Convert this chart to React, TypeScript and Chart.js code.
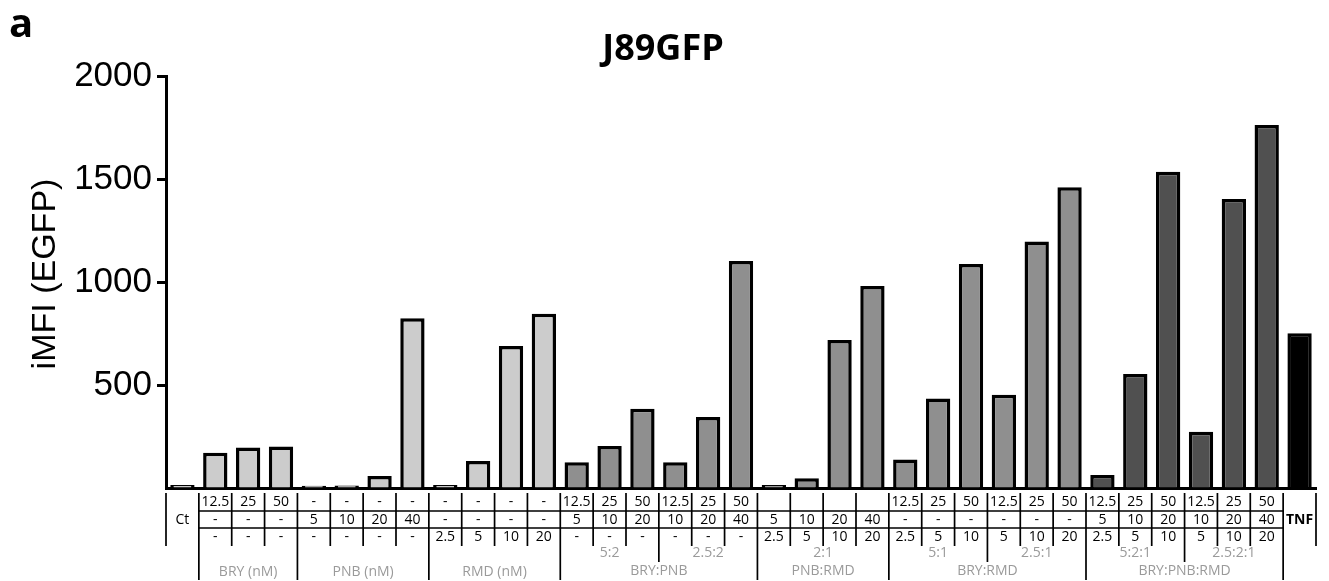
import React, { useEffect, useRef } from "react";
import { Chart, registerables } from "chart.js";

Chart.register(...registerables);

// ---- data ----
const categories = [
  "Ct",
  "BRY 12.5", "BRY 25", "BRY 50",
  "PNB 5", "PNB 10", "PNB 20", "PNB 40",
  "RMD 2.5", "RMD 5", "RMD 10", "RMD 20",
  "BRY:PNB 12.5:5", "BRY:PNB 25:10", "BRY:PNB 50:20", "BRY:PNB 12.5:10", "BRY:PNB 25:20", "BRY:PNB 50:40",
  "PNB:RMD 5:2.5", "PNB:RMD 10:5", "PNB:RMD 20:10", "PNB:RMD 40:20",
  "BRY:RMD 12.5:2.5", "BRY:RMD 25:5", "BRY:RMD 50:10", "BRY:RMD 12.5:5", "BRY:RMD 25:10", "BRY:RMD 50:20",
  "BRY:PNB:RMD 12.5:5:2.5", "BRY:PNB:RMD 25:10:5", "BRY:PNB:RMD 50:20:10", "BRY:PNB:RMD 12.5:10:5", "BRY:PNB:RMD 25:20:10", "BRY:PNB:RMD 50:40:20",
  "TNF",
];

const imfiValues = [
  15,
  171, 196, 202,
  11, 12, 58, 824,
  15, 131, 689, 846,
  125, 204, 385, 125, 345, 1102,
  15, 47, 718, 981,
  138, 435, 1087, 453, 1196, 1460,
  63, 553, 1535, 273, 1403, 1762,
  751,
];

const LIGHT = "#cccccc";
const MID = "#8f8f8f";
const DARK = "#505050";
const BLACK = "#000000";
const barColors = [
  LIGHT,
  LIGHT, LIGHT, LIGHT,
  LIGHT, LIGHT, LIGHT, LIGHT,
  LIGHT, LIGHT, LIGHT, LIGHT,
  MID, MID, MID, MID, MID, MID,
  MID, MID, MID, MID,
  MID, MID, MID, MID, MID, MID,
  DARK, DARK, DARK, DARK, DARK, DARK,
  BLACK,
];

// table rows (BRY / PNB / RMD concentrations), "" = empty cell
const rowBRY = [
  "",
  "12.5", "25", "50",
  "-", "-", "-", "-",
  "-", "-", "-", "-",
  "12.5", "25", "50", "12.5", "25", "50",
  "", "", "", "",
  "12.5", "25", "50", "12.5", "25", "50",
  "12.5", "25", "50", "12.5", "25", "50",
  "",
];
const rowPNB = [
  "Ct",
  "-", "-", "-",
  "5", "10", "20", "40",
  "-", "-", "-", "-",
  "5", "10", "20", "10", "20", "40",
  "5", "10", "20", "40",
  "-", "-", "-", "-", "-", "-",
  "5", "10", "20", "10", "20", "40",
  "TNF",
];
const rowRMD = [
  "",
  "-", "-", "-",
  "-", "-", "-", "-",
  "2.5", "5", "10", "20",
  "-", "-", "-", "-", "-", "-",
  "2.5", "5", "10", "20",
  "2.5", "5", "10", "5", "10", "20",
  "2.5", "5", "10", "5", "10", "20",
  "",
];

const subGroupLabels = ["5:2", "2.5:2", "2:1", "5:1", "2.5:1", "5:2:1", "2.5:2:1"];
const subGroupStart = [12, 15, 18, 22, 25, 28, 31];
const subGroupEnd = [14, 17, 21, 24, 27, 30, 33];

const groupLabels = ["BRY (nM)", "PNB (nM)", "RMD (nM)", "BRY:PNB", "PNB:RMD", "BRY:RMD", "BRY:PNB:RMD"];
const groupStart = [1, 4, 8, 12, 18, 22, 28];
const groupEnd = [3, 7, 11, 17, 21, 27, 33];
const groupHasSub = [false, false, false, true, true, true, true];

const yTickValues = [0, 500, 1000, 1500, 2000];

const chartTitle = "J89GFP";
const yTitle = "iMFI (EGFP)";
const panelLetter = "a";

// ---- plugin: titles + table beneath x axis ----
const decorPlugin = {
  id: "decor",
  afterDraw(chart: any) {
    const ctx = chart.ctx as CanvasRenderingContext2D;
    const area = chart.chartArea;
    const x = chart.scales.x;
    const n = categories.length;
    const colW = x.getPixelForValue(1) - x.getPixelForValue(0);
    const leftEdge = (i: number) => x.getPixelForValue(i) - colW / 2;
    const rightEdge = (i: number) => x.getPixelForValue(i) + colW / 2;
    const b = area.bottom;

    ctx.save();
    // panel letter
    ctx.fillStyle = "#000";
    ctx.font = 'bold 40px "Open Sans"';
    ctx.textAlign = "left";
    ctx.textBaseline = "alphabetic";
    ctx.fillText(panelLetter, 9, 37);

    // title
    ctx.font = 'bold 36px "Open Sans"';
    ctx.textAlign = "center";
    ctx.fillText(chartTitle, 663, 60);

    // y title
    ctx.save();
    ctx.translate(55, 274);
    ctx.rotate(-Math.PI / 2);
    ctx.font = '34px "Liberation Sans"';
    ctx.textAlign = "center";
    ctx.textBaseline = "alphabetic";
    ctx.fillText(yTitle, 0, 0);
    ctx.restore();

    // table
    const top = b + 5;
    const h1 = b + 23;
    const h2 = b + 40;
    const rowBottom = b + 58;
    const subSepBottom = b + 74;
    const grpSepBottom = b + 92;
    const rowY = [b + 14, b + 32, b + 49];

    ctx.strokeStyle = "#000";
    ctx.lineWidth = 1.7;
    ctx.beginPath();
    const hx0 = leftEdge(1);
    const hx1 = rightEdge(n - 2);
    ctx.moveTo(hx0, h1);
    ctx.lineTo(hx1, h1);
    ctx.moveTo(hx0, h2);
    ctx.lineTo(hx1, h2);
    for (let i = 0; i <= n; i++) {
      const px = i < n ? leftEdge(i) : rightEdge(n - 1);
      ctx.moveTo(px, top);
      ctx.lineTo(px, rowBottom);
    }
    for (let k = 0; k < subGroupStart.length; k++) {
      const px = leftEdge(subGroupStart[k]);
      ctx.moveTo(px, rowBottom);
      ctx.lineTo(px, subSepBottom);
    }
    for (let k = 0; k < groupStart.length; k++) {
      const px = leftEdge(groupStart[k]);
      ctx.moveTo(px, rowBottom);
      ctx.lineTo(px, grpSepBottom);
    }
    const lastPx = rightEdge(groupEnd[groupEnd.length - 1]);
    ctx.moveTo(lastPx, rowBottom);
    ctx.lineTo(lastPx, grpSepBottom);
    ctx.stroke();

    // cell texts
    ctx.textAlign = "center";
    ctx.textBaseline = "middle";
    const rows = [rowBRY, rowPNB, rowRMD];
    for (let r = 0; r < 3; r++) {
      for (let i = 0; i < n; i++) {
        const t = rows[r][i];
        if (!t) continue;
        ctx.fillStyle = "#000";
        ctx.font = t === "TNF" ? 'bold 14px "Open Sans"' : '14px "Open Sans"';
        ctx.fillText(t, x.getPixelForValue(i), rowY[r]);
      }
    }

    // sub-group labels
    ctx.fillStyle = "#9a9a9a";
    ctx.font = '14px "Open Sans"';
    for (let k = 0; k < subGroupLabels.length; k++) {
      const cx = (leftEdge(subGroupStart[k]) + rightEdge(subGroupEnd[k])) / 2;
      ctx.fillText(subGroupLabels[k], cx, b + 65);
    }
    for (let k = 0; k < groupLabels.length; k++) {
      const cx = (leftEdge(groupStart[k]) + rightEdge(groupEnd[k])) / 2;
      ctx.fillText(groupLabels[k], cx, groupHasSub[k] ? b + 83 : b + 84);
    }
    ctx.restore();
  },
};

export default function App() {
  const canvasRef = useRef<HTMLCanvasElement | null>(null);

  useEffect(() => {
    const canvas = canvasRef.current;
    if (!canvas) return;
    const chart = new Chart(canvas, {
      type: "bar",
      data: {
        labels: categories,
        datasets: [
          {
            data: imfiValues,
            backgroundColor: barColors,
            borderColor: "#000",
            borderWidth: 3.5,
            borderSkipped: "bottom",
            barPercentage: 0.74,
            categoryPercentage: 1,
          },
        ],
      },
      options: {
        responsive: false,
        animation: false,
        events: [],
        layout: { padding: { top: 76, right: 13, bottom: 93, left: 0 } },
        plugins: {
          legend: { display: false },
          title: { display: false },
          tooltip: { enabled: false },
        },
        scales: {
          x: {
            type: "category",
            offset: true,
            grid: { display: false, drawTicks: false },
            ticks: { display: false },
            border: { display: true, color: "#000", width: 3 },
            afterFit: (s: any) => {
              s.height = 0;
            },
          },
          y: {
            type: "linear",
            min: 0,
            max: 2000,
            afterBuildTicks: (s: any) => {
              s.ticks = yTickValues.map((v) => ({ value: v }));
            },
            ticks: {
              color: "#000",
              padding: 5,
              font: { family: '"Liberation Sans"', size: 35 },
              callback: (v: any) => (v === 0 ? "" : String(v)),
            },
            grid: {
              drawOnChartArea: false,
              drawTicks: true,
              tickLength: 9,
              tickWidth: 3,
              color: (c: any) => (c.tick && c.tick.value === 0 ? "rgba(0,0,0,0)" : "#000"),
            },
            border: { display: true, color: "#000", width: 3 },
            afterFit: (s: any) => {
              s.width = 166;
            },
          },
        },
      },
      plugins: [decorPlugin],
    } as any);
    return () => chart.destroy();
  }, []);

  return (
    <div style={{ position: "absolute", left: 0, top: 0, width: 1329, height: 581, background: "#fff" }}>
      <canvas ref={canvasRef} width={1329} height={581} style={{ display: "block" }} />
    </div>
  );
}
